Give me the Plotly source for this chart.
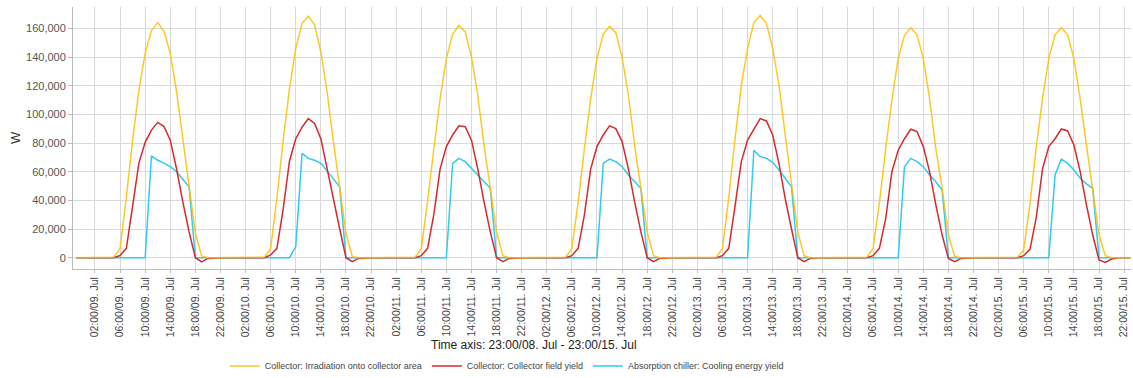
import pandas as pd
import plotly.graph_objects as go

# Hourly series: 23:00 08 Jul .. 23:00 15 Jul (169 points). Daytime values per day, 05:00..20:00
start = "2023-07-08 23:00"
n_points = 169

irradiation_days = [
    [300, 6500, 42000, 82000, 117000, 142500, 158500, 164000, 158000, 142500, 116000, 83000, 50500, 17000, 1200, 0],
    [300, 6500, 42000, 82000, 118000, 146000, 163500, 168500, 162500, 143500, 115500, 81000, 48500, 17000, 700, 0],
    [300, 6500, 39000, 76000, 111000, 139000, 156000, 162000, 157500, 140000, 113500, 78500, 48500, 18000, 1400, 0],
    [300, 6500, 39000, 76000, 111000, 139000, 156000, 161500, 157000, 140000, 113500, 78500, 48500, 18000, 1400, 0],
    [300, 6500, 42000, 83000, 120000, 146000, 164000, 169000, 163500, 146000, 120500, 85500, 50500, 18000, 1400, 0],
    [300, 6500, 38000, 76000, 110000, 139000, 155000, 160500, 155500, 139000, 111000, 76000, 48500, 16000, 900, 0],
    [300, 5300, 38000, 77000, 111000, 139000, 155500, 160500, 155500, 139000, 111000, 78500, 48500, 16000, 1400, 0],
]
field_yield_days = [
    [0, 1500, 6500, 36000, 66000, 80500, 89000, 94400, 91500, 82000, 62000, 39000, 18000, 0, -3000, -500],
    [0, 1900, 6500, 34000, 67500, 83000, 91000, 97000, 93700, 83000, 62000, 39000, 20000, 0, -2800, -500],
    [0, 1400, 6500, 30000, 62000, 77500, 85600, 92000, 91400, 82000, 62000, 39000, 18000, 0, -2800, -500],
    [0, 1400, 6500, 30000, 62000, 77500, 85600, 92000, 90000, 81000, 62000, 39000, 18000, 0, -2800, -500],
    [0, 1400, 6500, 36000, 67000, 82000, 90000, 97000, 95400, 85600, 65800, 41000, 20000, 0, -2800, -500],
    [0, 1400, 6500, 27000, 60000, 75000, 83000, 89600, 88000, 77500, 60000, 36800, 15800, -500, -2800, -500],
    [0, 1400, 5800, 28000, 62000, 77500, 83000, 89800, 88400, 78600, 60000, 36800, 15800, -1600, -3300, -900],
]
cooling_days = [
    [0, 0, 0, 0, 0, 0, 71000, 68000, 66000, 63500, 60000, 55000, 49500, 0, 0, 0],
    [0, 0, 0, 0, 0, 7700, 72800, 69300, 68000, 65800, 60000, 55000, 49500, 0, 0, 0],
    [0, 0, 0, 0, 0, 0, 65800, 69300, 67000, 62300, 58000, 53500, 48400, 0, 0, 0],
    [0, 0, 0, 0, 0, 0, 65800, 68800, 67000, 63500, 57700, 53000, 48400, 0, 0, 0],
    [0, 0, 0, 0, 0, 0, 75000, 70500, 69300, 66500, 61200, 55000, 49500, 0, 0, 0],
    [0, 0, 0, 0, 0, 0, 63500, 69300, 67000, 63500, 57700, 53000, 47200, 0, 0, 0],
    [0, 0, 0, 0, 0, 0, 57700, 68800, 65800, 61200, 55400, 51500, 48400, 0, 0, 0],
]

series_names = [
    "Collector: Irradiation onto collector area",
    "Collector: Collector field yield",
    "Absorption chiller: Cooling energy yield",
]
series_colors = ["rgba(255,190,0,0.85)", "#D42A2E", "#2FCBF2"]


def assemble(days):
    vals = [0] * n_points
    for d, day in enumerate(days):
        first = 6 + 24 * d  # index of 05:00 on that day
        for k, v in enumerate(day):
            vals[first + k] = v
    return vals


times = pd.date_range(start, periods=n_points, freq="h")
tick_times = pd.date_range("2023-07-09 02:00", "2023-07-15 22:00", freq="4h")
tick_labels = [t.strftime("%H:%M/%d. Jul") for t in tick_times]

data = [assemble(irradiation_days), assemble(field_yield_days), assemble(cooling_days)]

fig = go.Figure()
# draw order: cooling (bottom), field yield, irradiation (top)
for i in [2, 1, 0]:
    fig.add_trace(go.Scatter(
        x=times, y=data[i], mode="lines", name=series_names[i],
        line=dict(color=series_colors[i], width=1.5),
    ))

font_main = "Liberation Sans, Arial, sans-serif"
fig.update_layout(
    width=1133, height=378, autosize=False,
    margin=dict(l=73, r=2, t=7, b=109, autoexpand=False),
    paper_bgcolor="white", plot_bgcolor="white",
    font=dict(family=font_main, size=11, color="#555555"),
    showlegend=True,
    legend=dict(orientation="h", traceorder="reversed", x=0.41, xanchor="center",
                y=-0.37, yanchor="middle",
                font=dict(family=font_main, size=9, color="#444444"),
                itemwidth=30, tracegroupgap=0),
)
fig.update_xaxes(
    range=[times[0] - pd.Timedelta(minutes=30), times[-1] + pd.Timedelta(minutes=6)],
    tickvals=tick_times, ticktext=tick_labels, tickangle=-90,
    showgrid=True, gridcolor="#D9D9D9", gridwidth=1,
    showline=True, linecolor="#BBBBBB", linewidth=1,
    ticks="outside", ticklen=3, tickcolor="#BBBBBB",
    tickfont=dict(size=10.5, color="#444444"),
    zeroline=False, automargin=False,
)
fig.update_yaxes(
    range=[-7900, 174900], tickvals=[0, 20000, 40000, 60000, 80000, 100000, 120000, 140000, 160000],
    tickformat=",", showgrid=True, gridcolor="#D9D9D9", gridwidth=1,
    showline=True, linecolor="#BBBBBB", linewidth=1,
    ticks="outside", ticklen=4, tickcolor="#BBBBBB",
    tickfont=dict(size=11, color="#555555"), zeroline=False, automargin=False,
)
fig.add_annotation(text="W", xref="paper", yref="paper", x=(15 - 73) / 1058, y=0.5,
                   showarrow=False, textangle=-90, font=dict(size=13, color="#333333"),
                   xanchor="center", yanchor="middle")
fig.add_annotation(text="Time axis: 23:00/08. Jul - 23:00/15. Jul", xref="paper", yref="paper",
                   x=(534 - 73) / 1058, y=(269 - 345) / 262, showarrow=False,
                   font=dict(family=font_main, size=12, color="#222222"),
                   xanchor="center", yanchor="middle")

fig.write_html("out.html", config={"displayModeBar": False},
               post_script="document.body.style.margin='0';")
